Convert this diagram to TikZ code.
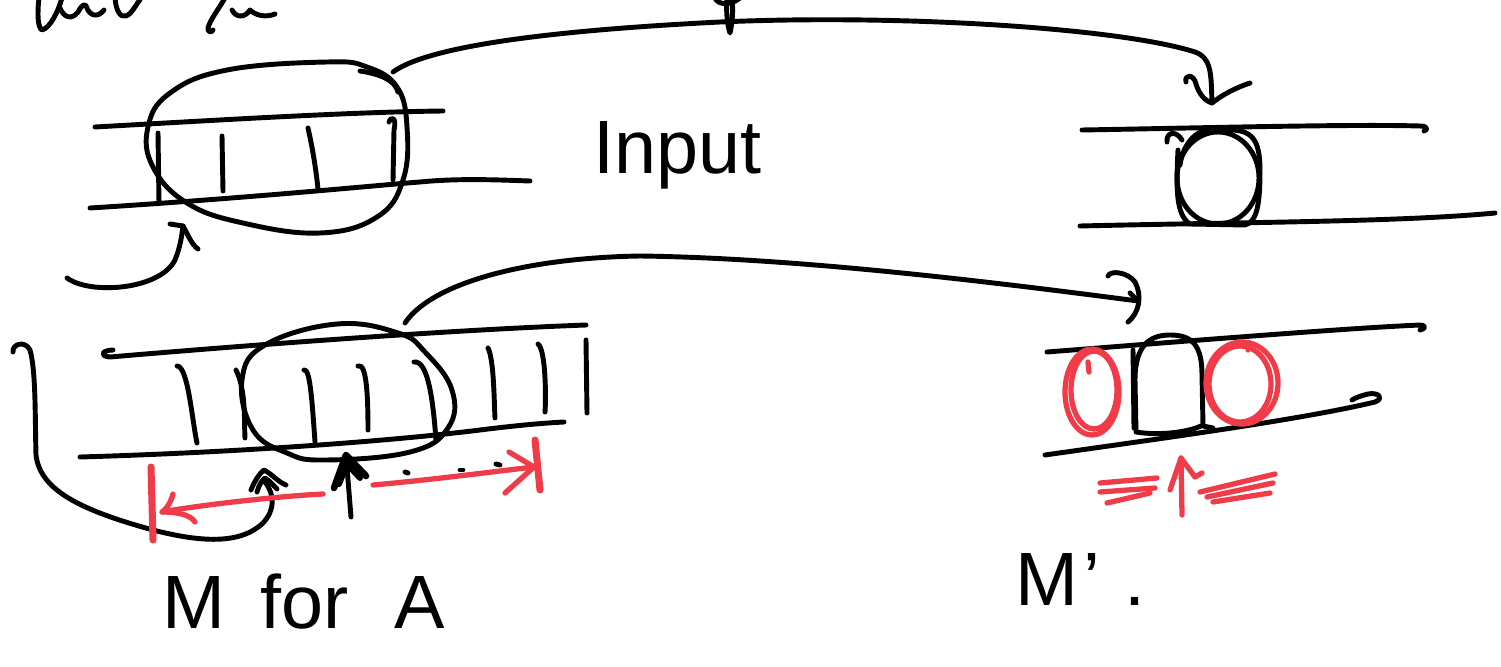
\documentclass[tikz,border=0pt]{standalone}
\usepackage{fontspec}
\setmainfont{Liberation Sans}
\definecolor{inkred}{RGB}{240,60,72}
\begin{document}
\begin{tikzpicture}[x=0.02cm,y=-0.02cm,
  ink/.style={line width=2.8pt,line cap=round,line join=round},
  redink/.style={ink,draw=inkred,line width=3pt},
  thickred/.style={redink,line width=4pt},
  lbl/.style={font=\fontsize{43}{50}\selectfont,inner sep=0pt,anchor=base west}]
\useasboundingbox (0,0) rectangle (1501,666);

% ---- cut-off writing at the top edge ----
\draw[ink] (39,-2) .. controls (37,15) and (38,28) .. (42,30) .. controls (50,28) and (58,12) .. (62,-2);
\draw[ink] (60,8) .. controls (64,18) and (72,20) .. (78,12) .. controls (82,5) and (85,2) .. (87,8) .. controls (90,16) and (98,18) .. (104,10);
\draw[ink] (115,-2) .. controls (116,10) and (120,18) .. (126,16) .. controls (132,14) and (136,4) .. (140,0);
\draw[ink] (225,-2) .. controls (218,10) and (210,20) .. (208,28) .. controls (207,32) and (212,33) .. (213,30);
\draw[ink] (232,10) .. controls (236,18) and (245,18) .. (250,10) .. controls (255,15) and (265,18) .. (275,14);
\draw[ink] (727,-2) .. controls (726,10) and (727,25) .. (730,33) .. controls (733,20) and (733,8) .. (732,-2);
\draw[ink] (715,-2) .. controls (718,5) and (730,6) .. (740,-2);

% ---- named connector ends ----
\coordinate (tlOut) at (393,72);
\coordinate (trIn) at (1212,103);
\coordinate (tlPtr) at (183,226);
\coordinate (tlPtrStart) at (67,278);
\coordinate (blOut) at (405,323);
\coordinate (brIn) at (1138,301);
\coordinate (hookStart) at (13,352);
\coordinate (hatTip) at (264,470);
\coordinate (midUpTail) at (351,517);
\coordinate (midUpTip) at (346,455);
\coordinate (redLStart) at (323,494);
\coordinate (redLTip) at (162,512);
\coordinate (redRStart) at (373,485);
\coordinate (redRTip) at (534,467);
\coordinate (brUpTail) at (1182,515);
\coordinate (brUpTip) at (1181,458);

% ---- top-left tape ----
\draw[ink] (95,127) .. controls (220,120) and (350,112) .. (443,111);
\draw[ink] (90,208) .. controls (250,198) and (380,185) .. (420,182) .. controls (460,178) and (500,180) .. (530,181);
\draw[ink] (158,133) -- (159,203);
\draw[ink] (222,136) -- (223,191);
\draw[ink] (308,128) .. controls (313,150) and (316,170) .. (318,189);
\draw[ink] (389,122) .. controls (391,116) and (397,117) .. (394,130) -- (393,180);
\draw[ink] plot[smooth cycle,tension=0.7] coordinates {(327,62) (227,70) (170,93) (148,127) (153,167) (187,203) (243,223) (320,233) (377,217) (403,180) (407,127) (397,87) (367,67)};
\draw[ink] (360,71) .. controls (380,74) and (395,80) .. (398,92);

% arrow into the top-left tape
\draw[ink] (tlPtrStart) .. controls (90,295) and (160,290) .. (175,260) .. controls (180,248) and (182,235) .. (tlPtr);
\draw[ink] (170,224) -- (tlPtr) .. controls (188,235) and (192,245) .. (198,249);

% big top arc
\draw[ink] (tlOut) .. controls (430,45) and (560,30) .. (720,22) .. controls (900,14) and (1120,28) .. (1195,52) .. controls (1212,58) and (1211,75) .. (trIn);
\draw[ink] (1186,82) .. controls (1184,74) and (1194,74) .. (1196,84) .. controls (1199,94) and (1205,101) .. (trIn) .. controls (1222,95) and (1235,88) .. (1250,83);

\node[lbl] (input) at (593,173) {Input};

% ---- top-right tape ----
\draw[ink] (1082,130) .. controls (1200,128) and (1350,124) .. (1420,126) .. controls (1428,126) and (1428,130) .. (1424,131);
\draw[ink] (1080,226) .. controls (1250,222) and (1400,222) .. (1495,213);
\draw[ink] (1218,178) ellipse [x radius=41, y radius=46];
\draw[ink] (1178,150) .. controls (1176,190) and (1176,215) .. (1190,224) -- (1245,225) .. controls (1258,222) and (1260,200) .. (1260,170) .. controls (1260,140) and (1252,130) .. (1230,130) -- (1205,130) .. controls (1190,135) and (1182,150) .. (1180,165);
\draw[ink] (1167,142) .. controls (1166,132) and (1176,130) .. (1182,140);

% ---- bottom-left tape ----
\draw[ink] (113,350) .. controls (103,350) and (98,356) .. (110,357) .. controls (250,345) and (450,330) .. (586,325);
\draw[ink] (80,457) .. controls (250,452) and (400,440) .. (480,430) .. controls (520,425) and (545,423) .. (564,422);
\draw[ink] (177,366) .. controls (188,366) and (192,420) .. (197,443);
\draw[ink] (236,370) .. controls (246,390) and (244,420) .. (245,438);
\draw[ink] (304,370) .. controls (310,368) and (312,400) .. (315,442);
\draw[ink] (358,366) .. controls (367,362) and (368,400) .. (368,430);
\draw[ink] (414,362) .. controls (428,360) and (433,400) .. (436,440);
\draw[ink] (488,348) .. controls (494,360) and (494,400) .. (495,418);
\draw[ink] (538,344) .. controls (546,350) and (546,400) .. (545,412);
\draw[ink] (586,340) -- (587,413);
\draw[ink] plot[smooth cycle,tension=0.7] coordinates {(337,324) (398,333) (425,352) (452,390) (448,428) (410,452) (325,460) (287,453) (253,430) (242,380) (265,345)};

% arc to bottom-right tape
\draw[ink] (blOut) .. controls (430,285) and (520,258) .. (640,256) .. controls (800,258) and (1000,283) .. (brIn);
\draw[ink] (1108,276) .. controls (1110,270) and (1128,272) .. (1135,282) .. controls (1142,295) and (1140,312) .. (1128,322);
\draw[ink] (1130,293) -- (brIn);

% big left hook curve ending in the hat arrow
\draw[ink] (hookStart) .. controls (12,344) and (25,340) .. (30,350) .. controls (36,370) and (35,420) .. (36,455) .. controls (40,490) and (80,510) .. (153,530) .. controls (200,542) and (240,545) .. (263,523) .. controls (275,510) and (275,495) .. (265,482);
\draw[ink] (251,490) .. controls (255,480) and (260,473) .. (hatTip) .. controls (272,474) and (278,482) .. (286,485);
\draw[ink] (257,492) .. controls (259,485) and (262,480) .. (265,478) .. controls (270,481) and (274,486) .. (277,489);

% black up arrow
\draw[ink] (midUpTail) -- (midUpTip);
\draw[ink,line width=3.8pt] (334,488) -- (midUpTip) -- (366,476);
\draw[ink,line width=3.4pt] (339,484) -- (347,464) -- (360,478);

% red measuring arrows
\draw[thickred] (151,467) -- (153,540);
\draw[redink] (redLStart) .. controls (280,496) and (200,505) .. (redLTip);
\draw[redink] (173,494) .. controls (170,505) and (165,510) .. (redLTip) .. controls (175,512) and (190,514) .. (195,522);
\draw[redink] (redRStart) .. controls (430,480) and (490,472) .. (redRTip);
\draw[redink] (509,452) -- (redRTip) -- (505,493);
\draw[thickred] (535,440) -- (540,490);

% dots
\draw[ink] (405,472) -- (408,473);
\draw[ink] (460,470) -- (463,470);
\draw[ink] (496,464) -- (500,465);

\node[lbl] (mfora) at (162,628) {M\hspace{20pt}for\hspace{26pt}A};

% ---- bottom-right tape ----
\draw[ink] (1047,352) .. controls (1200,340) and (1350,328) .. (1420,325) .. controls (1426,325) and (1426,329) .. (1420,330);
\draw[ink] (1045,455) .. controls (1150,440) and (1300,420) .. (1375,402) .. controls (1385,398) and (1378,392) .. (1368,394) .. controls (1360,396) and (1355,398) .. (1352,400);
\draw[ink] (1136,432) -- (1135,380) .. controls (1135,345) and (1150,335) .. (1170,335) .. controls (1192,335) and (1202,345) .. (1202,375) -- (1203,425) .. controls (1190,432) and (1160,436) .. (1136,432);
\draw[ink] (1133,350) -- (1134,428);
\draw[ink] (1203,426) -- (1213,428);

% red neighbour circles
\draw[redink] (1092,392) ellipse [x radius=27, y radius=43];
\draw[redink] (1094,390) ellipse [x radius=23, y radius=39];
\draw[redink] (1088,362) -- (1089,372);
\draw[redink] (1242,383) ellipse [x radius=36, y radius=41];
\draw[redink] (1240,384) ellipse [x radius=31, y radius=38];
\draw[redink] (1248,350) -- (1250,344);

% red up arrow and hatching
\draw[redink] (brUpTail) -- (brUpTip);
\draw[redink] (1170,490) -- (brUpTip) -- (1195,477) -- (1202,473);
\draw[redink] (1100,483) -- (1157,478);
\draw[redink] (1100,492) -- (1155,488);
\draw[redink] (1107,503) -- (1150,493);
\draw[redink] (1200,492) -- (1275,474);
\draw[redink] (1207,497) -- (1273,483);
\draw[redink] (1213,502) -- (1270,493);

\node[lbl] (mprime) at (1015,605) {M\kern3pt’\kern14pt.};
\end{tikzpicture}
\end{document}
